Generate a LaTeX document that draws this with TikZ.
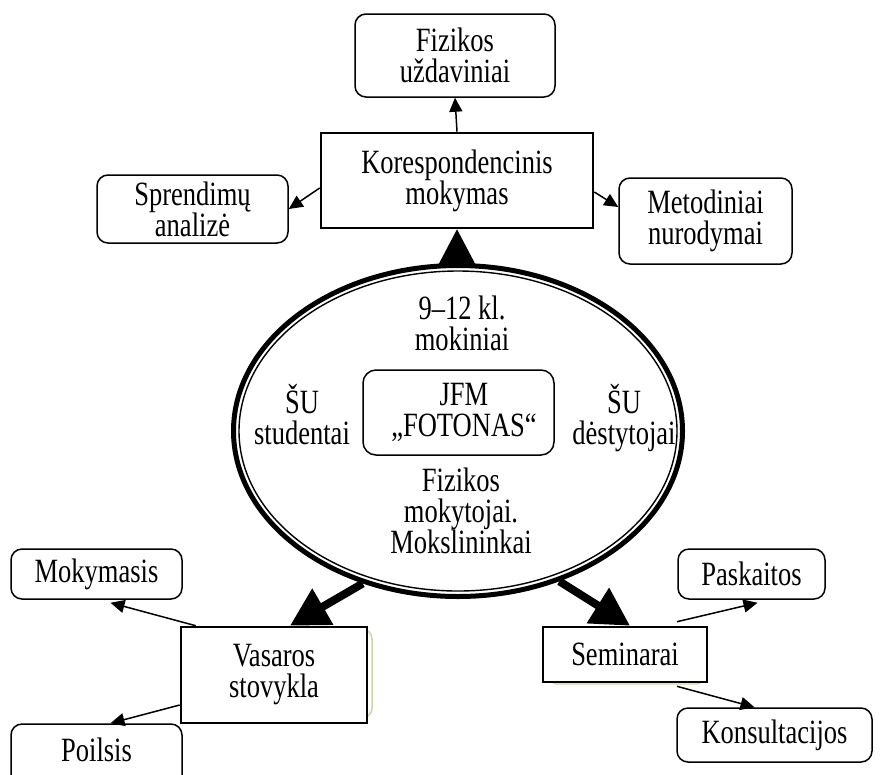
\documentclass[tikz,border=0pt]{standalone}
\usepackage{fontspec}
\setmainfont[FakeStretch=0.78]{Liberation Serif}
\usetikzlibrary{shapes.geometric,arrows.meta}
\definecolor{shadowgreen}{HTML}{C5DA9E}
\tikzset{
  txt/.style={font=\fontsize{34}{31}\selectfont, align=center, inner sep=0pt},
  rbox/.style={txt, draw, line width=1.5pt, rounded corners=11pt},
  sbox/.style={txt, draw, line width=2.6pt},
  arr/.style={line width=1.5pt, -{Triangle[length=14pt,width=13pt]}},
  bigarr/.style={line width=8pt, -{Triangle[length=38pt,width=40pt]}},
}
\begin{document}
\begin{tikzpicture}[x=1pt,y=-1pt]
\clip (0,0) rectangle (882,774);
\fill[white] (0,0) rectangle (882,774);

% green shadows
\draw[shadowgreen, line width=1.5pt, rounded corners=10pt] (190,629) rectangle (372,718);
\draw[shadowgreen, line width=1.2pt, rounded corners=8pt] (549,632) rectangle (704,684);

% boxes
\node[sbox, minimum width=272, minimum height=95] (kor) at (457,180.5) {Korespondencinis\\mokymas};
\node[rbox, minimum width=200, minimum height=83] (fiz) at (455,55.5) {Fizikos\\uždaviniai};
\node[rbox, minimum width=191, minimum height=68] (spr) at (192.5,209) {Sprendimų\\analizė};
\node[rbox, minimum width=173, minimum height=86] (met) at (705.5,221) {Metodiniai\\nurodymai};

% ellipse
\node[ellipse, draw, line width=5pt, minimum width=449, minimum height=331, inner sep=0pt] (ell) at (458,431) {};
\draw[line width=1.4pt] (ell.center) ellipse [x radius=219, y radius=160];

\node[rbox, minimum width=191, minimum height=85, rounded corners=13pt] (jfm) at (458.5,412.5) {};
\node[txt] (jfmt) at (464,412.5) {JFM\\„FOTONAS“};
\node[txt] (kl) at (462,323) {9–12 kl.\\mokiniai};
\node[txt] (stud) at (302,415) {ŠU\\studentai};
\node[txt] (dest) at (624,418) {ŠU\\dėstytojai};
\node[txt] (mok) at (461,511) {Fizikos\\mokytojai.\\Mokslininkai};

\node[sbox, fill=white, minimum width=186, minimum height=96] (vas) at (274,675) {Vasaros\\stovykla};
\node[sbox, fill=white, minimum width=164, minimum height=55] (sem) at (625,654.5) {Seminarai};
\node[rbox, minimum width=171, minimum height=50] (moky) at (96.5,574) {Mokymasis};
\node[rbox, minimum width=171, minimum height=66] (poi) at (96.5,757) {};
\node[txt] (poit) at (96.5,750) {Poilsis};
\node[rbox, minimum width=147, minimum height=50] (pas) at (751.5,574) {Paskaitos};
\node[rbox, minimum width=195, minimum height=54] (kon) at (774.5,735) {Konsultacijos};

% connectors
\fill (kor.south) -- ++(-20,38) -- ++(40,0) -- cycle;
\draw[arr] (kor.north) -- (fiz.south);
\draw[arr] ([yshift=-7.5pt]kor.west) -- (spr.east);
\draw[arr] ([yshift=-11.5pt]kor.east) -- ([yshift=14pt]met.west);

\draw[bigarr] (ell.-122) -- ([xshift=16pt]vas.north);
\draw[bigarr] (ell.-56) -- ([xshift=5pt]sem.north);

\draw[arr] ([xshift=16pt]vas.north west) -- ([xshift=14pt,yshift=-3pt]moky.south);
\draw[arr] ([yshift=-30pt]vas.west) -- ([xshift=14pt]poi.north);
\draw[arr] ([xshift=52pt,yshift=4pt]sem.north) -- ([xshift=6pt,yshift=-3pt]pas.south);
\draw[arr] ([xshift=52pt,yshift=-3pt]sem.south) -- ([xshift=-20pt]kon.north);
\end{tikzpicture}
\end{document}
